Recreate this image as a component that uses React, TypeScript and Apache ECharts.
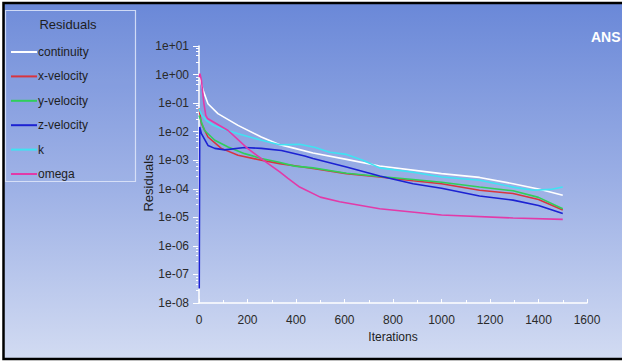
import React, { useEffect, useRef } from "react";
import * as echarts from "echarts";

// ---- data (iterations, residual values) ----
const seriesNames = ["continuity", "x-velocity", "y-velocity", "z-velocity", "k", "omega"];
const seriesColors = ["#ffffff", "#d8343e", "#2fcf5a", "#1c22d2", "#3fe3f2", "#e23aa8"];

const continuityIter = [3, 10, 17, 37, 78, 161, 257, 333, 395, 470, 608, 745, 1000, 1157, 1295, 1400, 1500];
const continuityRes = [1.0, 0.45, 0.28, 0.095, 0.043, 0.0166, 0.0065, 0.0035, 0.0026, 0.0018, 0.00107, 6.3e-4, 3.4e-4, 2.5e-4, 1.5e-4, 9.8e-5, 5.9e-5];

const xVelIter = [0, 10, 37, 92, 161, 257, 333, 470, 608, 745, 883, 1000, 1157, 1295, 1400, 1500];
const xVelRes = [0.065, 0.019, 0.0065, 0.0026, 0.0015, 0.001, 7.6e-4, 5.1e-4, 3.4e-4, 2.6e-4, 1.9e-4, 1.5e-4, 8.9e-5, 6.8e-5, 4.2e-5, 1.8e-5];

const yVelIter = [0, 23, 65, 120, 188, 257, 326, 395, 470, 608, 745, 883, 1000, 1157, 1295, 1400, 1500];
const yVelRes = [0.037, 0.011, 0.005, 0.0029, 0.0017, 0.00115, 8.7e-4, 6.2e-4, 5.4e-4, 3.5e-4, 2.7e-4, 2.1e-4, 1.7e-4, 1.15e-4, 8.5e-5, 5.0e-5, 2.0e-5];

const zVelIter = [1, 3, 10, 37, 65, 106, 188, 257, 340, 436, 470, 608, 745, 883, 1000, 1157, 1295, 1400, 1500];
const zVelRes = [3.2e-8, 0.0145, 0.0085, 0.0033, 0.0026, 0.0023, 0.0028, 0.0026, 0.0022, 0.0014, 0.00115, 5.8e-4, 2.8e-4, 1.5e-4, 1.05e-4, 5.6e-5, 4.0e-5, 2.6e-5, 1.35e-5];

const kIter = [0, 10, 30, 60, 92, 161, 257, 333, 415, 480, 539, 608, 676, 745, 883, 1000, 1157, 1300, 1377, 1450, 1500];
const kRes = [0.063, 0.04, 0.025, 0.0166, 0.0129, 0.0085, 0.005, 0.0035, 0.0036, 0.0028, 0.0019, 0.0016, 0.001, 5.4e-4, 3.8e-4, 2.6e-4, 2.0e-4, 1.12e-4, 8.9e-5, 9.5e-5, 1.15e-4];

const omegaIter = [0, 4, 10, 20, 28, 35, 120, 200, 285, 333, 367, 415, 500, 580, 745, 1000, 1295, 1500];
const omegaRes = [0.81, 1.07, 0.63, 0.1, 0.037, 0.029, 0.011, 0.0026, 7.6e-4, 3.9e-4, 2.3e-4, 1.15e-4, 5.1e-5, 3.5e-5, 2.0e-5, 1.2e-5, 9.5e-6, 8.5e-6];

const allIters = [continuityIter, xVelIter, yVelIter, zVelIter, kIter, omegaIter];
const allRes = [continuityRes, xVelRes, yVelRes, zVelRes, kRes, omegaRes];

const xTicks = { min: 0, max: 1600, interval: 200 };
const yRange = { min: 1e-8, max: 10 };

const legendTitle = "Residuals";
const yAxisTitle = "Residuals";
const xAxisTitle = "Iterations";
const brand = "ANS";

const FONT = "'Liberation Sans', Arial, sans-serif";

function fmtExp(v: number): string {
  const e = Math.round(Math.log10(v));
  const s = String(Math.abs(e)).padStart(2, "0");
  return "1e" + (e >= 0 ? "+" : "-") + s;
}

export default function App() {
  const ref = useRef<HTMLDivElement>(null);
  useEffect(() => {
    if (!ref.current) return;
    const chart = echarts.init(ref.current, undefined, { renderer: "svg" });
    const series = seriesNames.map((name, i) => ({
      name,
      type: "line",
      data: allIters[i].map((it, j) => [it, allRes[i][j]]),
      showSymbol: false,
      symbol: "none",
      color: seriesColors[i],
      lineStyle: { width: 1.6, color: seriesColors[i] },
      z: 3 + i,
    }));
    chart.setOption({
      animation: false,
      backgroundColor: "#ffffff",
      graphic: [
        {
          type: "rect",
          z: -10,
          silent: true,
          shape: { x: 3.5, y: 3, width: 700, height: 356 },
          style: {
            fill: new echarts.graphic.LinearGradient(0, 0, 0, 1, [
              { offset: 0, color: "#6a88d8" },
              { offset: 0.5, color: "#9bafe5" },
              { offset: 1, color: "#d2dbf2" },
            ]),
            stroke: "none",
          },
        },
        {
          type: "rect",
          z: -5,
          silent: true,
          shape: { x: 5.5, y: 10.5, width: 130, height: 171 },
          style: { fill: "rgba(255,255,255,0.04)", stroke: "rgba(225,232,250,0.85)", lineWidth: 1.2 },
        },
        {
          type: "text",
          z: 10,
          x: 68,
          y: 24,
          style: {
            text: legendTitle,
            fill: "#1e1e1e",
            font: "13px " + FONT,
            textAlign: "center",
            textVerticalAlign: "middle",
          },
        },
        {
          type: "text",
          z: 10,
          x: 148,
          y: 183,
          rotation: Math.PI / 2,
          style: {
            text: yAxisTitle,
            fill: "#1e1e1e",
            font: "13px " + FONT,
            textAlign: "center",
            textVerticalAlign: "middle",
          },
        },
        {
          type: "text",
          z: 10,
          x: 591,
          y: 37,
          style: {
            text: brand,
            fill: "#ffffff",
            font: "bold 14px " + FONT,
            textAlign: "left",
            textVerticalAlign: "middle",
          },
        },
        {
          type: "rect",
          z: 100,
          silent: true,
          shape: { x: 3.5, y: 3, width: 700, height: 356 },
          style: { fill: "none", stroke: "#000000", lineWidth: 2.5 },
        },
      ],
      legend: {
        orient: "vertical",
        left: 6,
        top: 40,
        itemWidth: 26,
        itemHeight: 2,
        itemGap: 10.4,
        icon: "rect",
        selectedMode: false,
        data: seriesNames,
        textStyle: { fontFamily: FONT, fontSize: 12, color: "#1e1e1e", lineHeight: 14, padding: [0, 0, 0, -4] },
      },
      grid: { left: 199, top: 46, width: 388, height: 257, containLabel: false },
      xAxis: {
        type: "value",
        min: xTicks.min,
        max: xTicks.max,
        interval: xTicks.interval,
        name: xAxisTitle,
        nameLocation: "middle",
        nameGap: 28,
        nameTextStyle: { fontFamily: FONT, fontSize: 12, color: "#1e1e1e" },
        axisLine: { show: true, lineStyle: { color: "#ffffff", width: 1.5 } },
        axisTick: { show: true, inside: true, length: 4, lineStyle: { color: "#ffffff", width: 1 } },
        minorTick: { show: true, splitNumber: 2, length: 3, lineStyle: { color: "#ffffff", width: 1 } },
        splitLine: { show: false },
        axisLabel: { fontFamily: FONT, fontSize: 12, color: "#2a2a2a", margin: 11, formatter: (v: number) => String(v) },
      },
      yAxis: {
        type: "log",
        logBase: 10,
        min: yRange.min,
        max: yRange.max,
        axisLine: { show: true, lineStyle: { color: "#ffffff", width: 1.5 } },
        axisTick: { show: true, inside: false, length: 6, lineStyle: { color: "#ffffff", width: 1 } },
        minorTick: { show: true, splitNumber: 5, length: 3, lineStyle: { color: "#ffffff", width: 1 } },
        splitLine: { show: false },
        minorSplitLine: { show: false },
        axisLabel: { fontFamily: FONT, fontSize: 12, color: "#2a2a2a", margin: 10, formatter: (v: number) => fmtExp(v) },
      },
      series,
    });
    return () => chart.dispose();
  }, []);
  return <div ref={ref} style={{ position: "absolute", left: 0, top: 0, width: 622, height: 364 }} />;
}
